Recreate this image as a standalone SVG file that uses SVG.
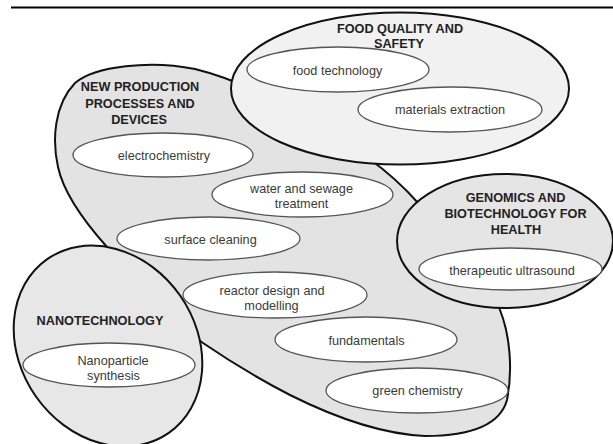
<svg xmlns="http://www.w3.org/2000/svg" width="613" height="444" viewBox="0 0 613 444">
<style>
.region{stroke:#111;stroke-width:2;}
.item{fill:#fff;stroke:#555;stroke-width:1.3;}
.h{font-family:"Liberation Sans",Arial,sans-serif;font-weight:bold;font-size:12.7px;fill:#222;text-anchor:middle;}
.t{font-family:"Liberation Sans",Arial,sans-serif;font-size:12.7px;fill:#3a3a3a;text-anchor:middle;}
</style>
<rect width="613" height="444" fill="#fff"/>
<line x1="11" y1="7.5" x2="613" y2="7.5" stroke="#000" stroke-width="2.2"/>

<g id="new-production">
<path class="region" fill="#e3e3e3" d="M58,167 C52,140 54,105 75,83 C95,66 150,60 195,69 C260,85 330,130 368,158 C385,170 405,188 420,205 C460,250 490,285 500,310 C510,335 513,370 507,400 C500,425 470,436 425,436 C380,434 330,415 290,395 C255,377 225,358 203,343 C170,320 130,280 107,247 C90,228 64,195 58,167 Z"/>
<text class="h" x="140" y="91">NEW PRODUCTION</text>
<text class="h" x="140" y="107.5">PROCESSES AND</text>
<text class="h" x="139" y="123.5">DEVICES</text>
<g id="electrochemistry"><ellipse class="item" cx="163" cy="155" rx="90" ry="22"/><text class="t" x="164" y="159.5">electrochemistry</text></g>
<g id="water-sewage"><ellipse class="item" cx="302.5" cy="194.5" rx="90.5" ry="22.5"/><text class="t" x="301.5" y="192.5">water and sewage</text><text class="t" x="301.5" y="207.5">treatment</text></g>
<g id="surface-cleaning"><ellipse class="item" cx="208.5" cy="238.5" rx="91.5" ry="21.5"/><text class="t" x="210.5" y="243.5">surface cleaning</text></g>
<g id="reactor-design"><ellipse class="item" cx="275" cy="295" rx="92" ry="23"/><text class="t" x="272" y="294.5">reactor design and</text><text class="t" x="271.5" y="309.5">modelling</text></g>
<g id="fundamentals"><ellipse class="item" cx="366" cy="339.5" rx="91" ry="22.5"/><text class="t" x="366.5" y="344.5">fundamentals</text></g>
<g id="green-chemistry"><ellipse class="item" cx="417" cy="390.5" rx="91" ry="22.5"/><text class="t" x="417.5" y="395">green chemistry</text></g>
</g>

<g id="food-quality">
<ellipse class="region" fill="#f1f1f1" cx="400" cy="88.5" rx="169" ry="76"/>
<text class="h" x="400" y="33">FOOD QUALITY AND</text>
<text class="h" x="399" y="48">SAFETY</text>
<g id="food-technology"><ellipse class="item" cx="338" cy="69.5" rx="91" ry="22.5"/><text class="t" x="337.5" y="74.5">food technology</text></g>
<g id="materials-extraction"><ellipse class="item" cx="450" cy="109.5" rx="92" ry="22.5"/><text class="t" x="450" y="113.5">materials extraction</text></g>
</g>

<g id="genomics">
<ellipse class="region" fill="#e5e5e5" cx="505" cy="241" rx="108" ry="67"/>
<text class="h" x="515.5" y="202">GENOMICS AND</text>
<text class="h" x="515.5" y="218">BIOTECHNOLOGY FOR</text>
<text class="h" x="516" y="233.5">HEALTH</text>
<g id="therapeutic-ultrasound"><ellipse class="item" cx="510.5" cy="269" rx="91.5" ry="21"/><text class="t" x="512" y="274.5">therapeutic ultrasound</text></g>
</g>

<g id="nanotechnology">
<ellipse class="region" fill="#e7e7e7" cx="108" cy="346" rx="88" ry="106" transform="rotate(-35 108 346)"/>
<text class="h" x="100" y="325">NANOTECHNOLOGY</text>
<g id="nanoparticle-synthesis"><ellipse class="item" cx="109" cy="365" rx="86" ry="22"/><text class="t" x="113" y="364.5">Nanoparticle</text><text class="t" x="113.5" y="379.5">synthesis</text></g>
</g>
</svg>
